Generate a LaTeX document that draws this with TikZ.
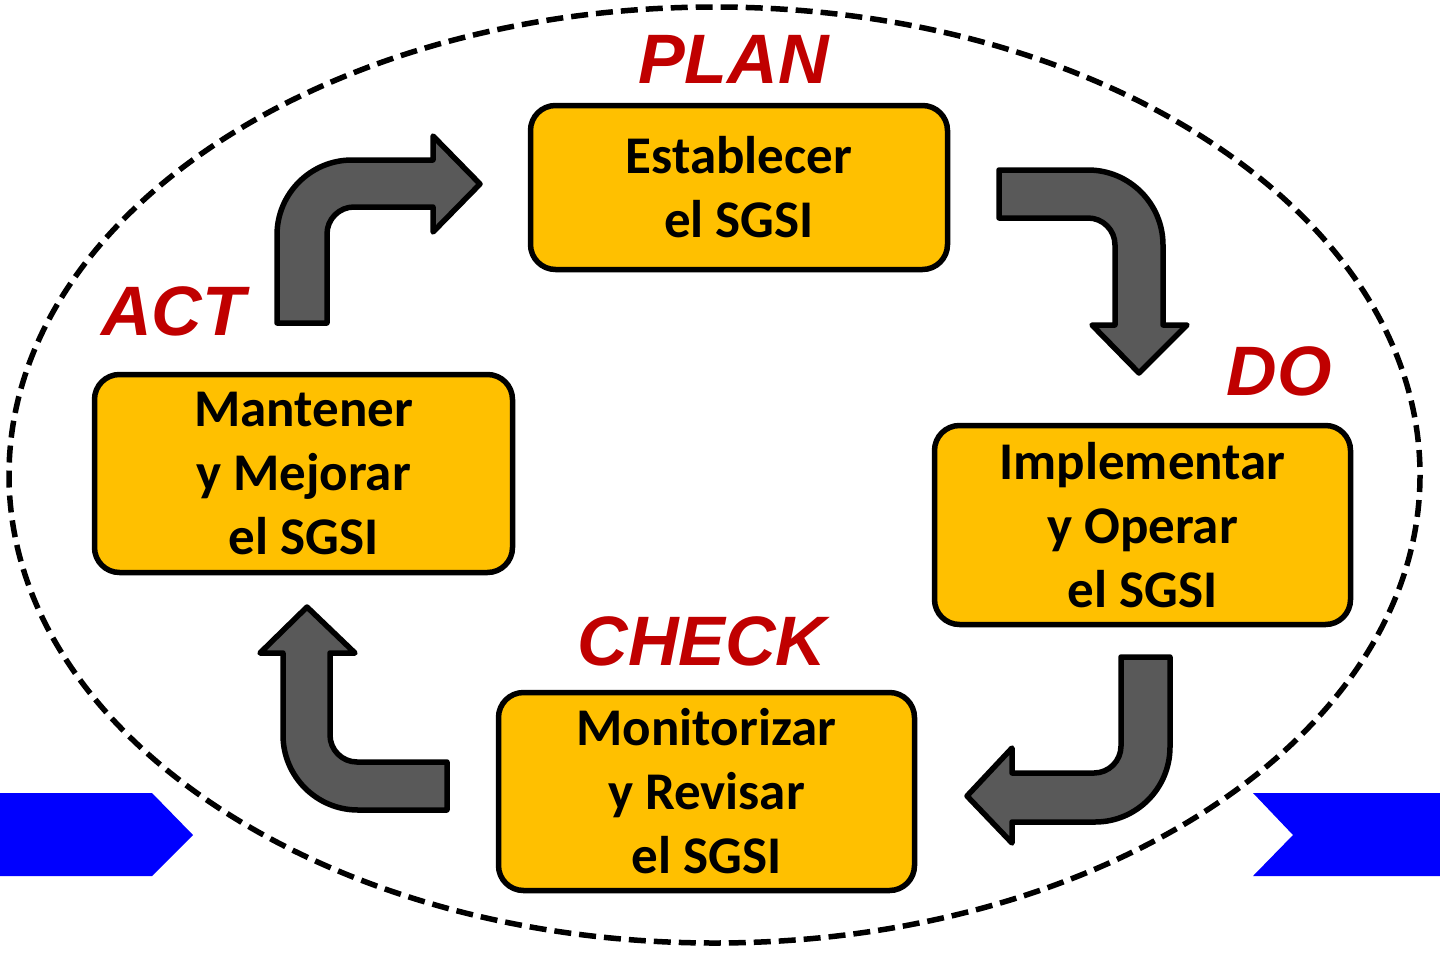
\documentclass[tikz,border=0pt]{standalone}
\usepackage{fontspec}
\setmainfont{Carlito}
\newfontfamily\labfont{Liberation Sans}
\definecolor{boxfill}{HTML}{FFC000}
\definecolor{arrfill}{HTML}{595959}
\definecolor{labred}{HTML}{C00000}
\definecolor{flagblue}{HTML}{0000FF}
\tikzset{
  stagebox/.style={draw=black, line width=5.5pt, fill=boxfill, rounded corners=25pt,
    align=center, inner sep=0pt, font=\fontsize{53}{64}\selectfont\bfseries},
  phase/.style={anchor=base, text=labred, inner sep=0pt,
    font=\labfont\fontsize{70}{72}\selectfont\bfseries\itshape},
  bentarrow/.style={draw=black, line width=5.5pt, fill=arrfill, line join=round},
  outline/.style={draw=black, line width=5.5pt, dash pattern=on 17pt off 8pt},
  flag/.style={fill=flagblue}
}
\begin{document}
\begin{tikzpicture}[x=1pt,y=-1pt]
\useasboundingbox (0,0) rectangle (1440,959);
\fill[white] (0,0) rectangle (1440,959);
% outer dashed ellipse
\draw[outline] (714.5,475) ellipse [x radius=705.5, y radius=468];
% blue flags
\path[flag] (0,793) -- (152,793) -- (193,835) -- (152,876) -- (0,876) -- cycle;
\path[flag] (1253,793) -- (1440,793) -- (1440,876) -- (1253,876) -- (1293,835) -- cycle;
% stage boxes
\node[stagebox, minimum width=417pt, minimum height=164pt] (plan) at (739,187.5) {Establecer\\el SGSI};
\node[stagebox, minimum width=416pt, minimum height=199pt] (do) at (1142.5,525) {Implementar\\y Operar\\el SGSI};
\node[stagebox, minimum width=416pt, minimum height=198pt] (check) at (706.5,791.5) {Monitorizar\\y Revisar\\el SGSI};
\node[stagebox, minimum width=418pt, minimum height=198pt] (act) at (303.5,473.5) {Mantener\\y Mejorar\\el SGSI};
% phase labels
\node[phase] (planlab) at (733.5,83) {PLAN};
\node[phase] (dolab) at (1279,395) {DO};
\node[phase] (checklab) at (702,665) {CHECK};
\node[phase] (actlab) at (173,335) {ACT};
% bent arrows
\draw[bentarrow] (277,323) -- (277,235) .. controls (277,193.6) and (310.6,160) .. (352,160)
  -- (433,160) -- (433,136) -- (480,184) -- (433,232) -- (433,207) -- (354,207)
  .. controls (339.1,207) and (327,219.1) .. (327,234) -- (327,323) -- cycle;
\draw[bentarrow] (999,170) -- (1088,170) .. controls (1129.4,170) and (1163,203.6) .. (1163,245)
  -- (1163,325) -- (1187,325) -- (1139,373) -- (1092,325) -- (1115,325) -- (1115,245)
  .. controls (1115,230.1) and (1102.9,218) .. (1088,218) -- (999,218) -- cycle;
\draw[bentarrow] (1121,657) -- (1170,657) -- (1170,747) .. controls (1170,788.4) and (1136.4,822) .. (1095,822)
  -- (1012,822) -- (1012,843) -- (967,796) -- (1012,748) -- (1012,773) -- (1094,773)
  .. controls (1108.9,773) and (1121,760.9) .. (1121,746) -- cycle;
\draw[bentarrow] (447,762) -- (447,810) -- (358,810) .. controls (316.6,810) and (283,776.4) .. (283,735)
  -- (283,653) -- (260,653) -- (307,607) -- (355,653) -- (330,653) -- (330,735)
  .. controls (330,749.9) and (342.1,762) .. (357,762) -- cycle;
\end{tikzpicture}
\end{document}
